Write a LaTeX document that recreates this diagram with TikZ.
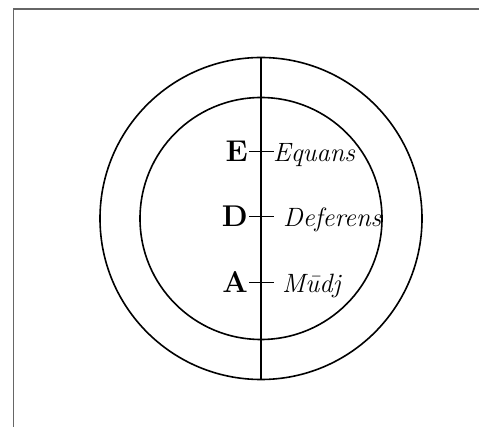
\documentclass[tikz,border=0pt]{standalone}
\begin{document}
\begin{tikzpicture}[x=1pt, y=-1pt,
    % Styles
    frame/.style={line width=1.5pt, draw=black!60},
    orb/.style={circle, draw, line width=1.6pt, inner sep=0pt, outer sep=0pt},
    axis/.style={line width=1.8pt},
    pole/.style={font=\fontsize{30}{34}\selectfont\bfseries, anchor=base east, inner sep=0pt},
    orbname/.style={font=\fontsize{26.5}{30}\selectfont\itshape, anchor=base west, inner sep=0pt},
    tick/.style={line width=1.3pt}]
    \useasboundingbox (0,0) rectangle (479,427);

    % Frame
    \draw [frame] (13.5,427) -- (13.5,9) -- (479,9);

    % Orbs
    \node [orb, minimum size=322pt] (outer) at (261,218.5) {};
    \node [orb, minimum size=242pt] (inner) at (261,218.5) {};
    \draw [axis] (outer.north) -- (outer.south);

    % Labels
    \foreach \p/\y/\w/\x in {E/162/Equans/273, D/227/Deferens/283, A/293/Mūdj/282} {
        \node [pole] (pole\p) at (248,\y) {\p};
        \node [orbname] (name\p) at (\x,\y) {\w};
        \draw [tick] ([xshift=1pt]pole\p.east) -- ++(25,0);
    }
\end{tikzpicture}
\end{document}
